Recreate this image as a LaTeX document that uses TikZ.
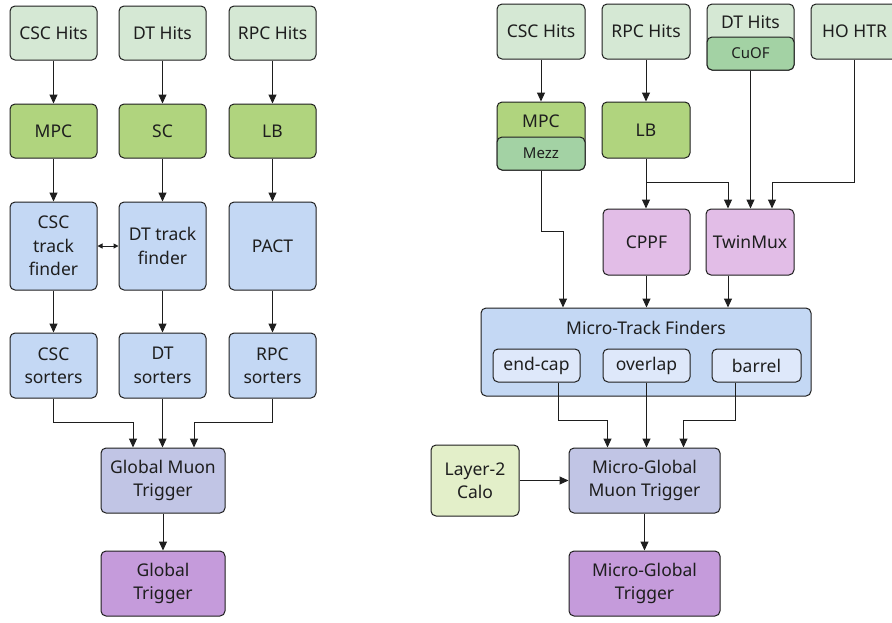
\documentclass[tikz,border=0pt]{standalone}
\usepackage{fontspec}
\setmainfont{Noto Sans}
\usetikzlibrary{arrows.meta}
\definecolor{hitsc}{HTML}{D5E8D4}
\definecolor{greenc}{HTML}{B0D47E}
\definecolor{mezzc}{HTML}{A3D2A4}
\definecolor{bluec}{HTML}{C4D8F4}
\definecolor{lavc}{HTML}{C1C5E5}
\definecolor{purpc}{HTML}{C59BDB}
\definecolor{pinkc}{HTML}{E2BDE7}
\definecolor{caloc}{HTML}{E3EFC9}
\definecolor{innerc}{HTML}{DEE8FA}
\definecolor{inkc}{HTML}{1E1E1E}
\newcommand{\mainsz}{\fontsize{17.5}{23.5}\selectfont}
\newcommand{\smallsz}{\fontsize{15}{17}\selectfont}
\begin{document}
\begin{tikzpicture}[x=1pt,y=-1pt,
  box/.style={draw=inkc, line width=1pt, rounded corners=5pt, inner sep=0pt, align=center, font=\mainsz, text=inkc},
  sz/.style 2 args={minimum width=#1 pt, minimum height=#2 pt},
  lbl/.style={inner sep=0pt, font=\mainsz, text=inkc},
  arr/.style={-{Triangle[length=9pt,width=8pt]}, line width=1pt, draw=inkc},
  darr/.style={{Triangle[length=5pt,width=5pt]}-{Triangle[length=5pt,width=5pt]}, line width=1pt, draw=inkc}]
\useasboundingbox (0,0) rectangle (892,622);
% ---------- left ----------
\node[box, sz={87}{54}, fill=hitsc] (cschits) at (53.5,33) {CSC Hits};
\node[box, sz={87}{54}, fill=hitsc] (dthits) at (162.5,33) {DT Hits};
\node[box, sz={87}{54}, fill=hitsc] (rpchits) at (272.5,33) {RPC Hits};
\node[box, sz={87}{54}, fill=greenc] (mpcL) at (53.5,131) {MPC};
\node[box, sz={87}{54}, fill=greenc] (scL) at (162.5,131) {SC};
\node[box, sz={87}{54}, fill=greenc] (lbL) at (272.5,131) {LB};
\node[box, sz={87}{88}, fill=bluec] (csctf) at (53.5,246) {CSC\\track\\finder};
\node[box, sz={87}{88}, fill=bluec] (dttf) at (162.5,246) {DT track\\finder};
\node[box, sz={87}{88}, fill=bluec] (pact) at (272.5,246) {PACT};
\node[box, sz={87}{65}, fill=bluec] (cscsort) at (53.5,365.5) {CSC\\sorters};
\node[box, sz={87}{65}, fill=bluec] (dtsort) at (162.5,365.5) {DT\\sorters};
\node[box, sz={87}{65}, fill=bluec] (rpcsort) at (272.5,365.5) {RPC\\sorters};
\node[box, sz={124}{65}, fill=lavc] (gmt) at (163,480.5) {Global Muon\\Trigger};
\node[box, sz={124}{65}, fill=purpc] (gt) at (163,583.5) {Global\\Trigger};
\coordinate (jL) at (0,422);
\draw[arr] (cschits) -- (mpcL);
\draw[arr] (dthits) -- (scL);
\draw[arr] (rpchits) -- (lbL);
\draw[arr] (mpcL) -- (csctf);
\draw[arr] (scL) -- (dttf);
\draw[arr] (lbL) -- (pact);
\draw[arr] (csctf) -- (cscsort);
\draw[arr] (dttf) -- (dtsort);
\draw[arr] (pact) -- (rpcsort);
\draw[darr] (csctf) -- (dttf);
\draw[arr] (dtsort.south) -- (dtsort.south |- gmt.north);
\draw[arr] (cscsort.south) -- (cscsort.south |- jL) -| ([xshift=-30pt]gmt.north);
\draw[arr] (rpcsort.south) -- (rpcsort.south |- jL) -| ([xshift=31pt]gmt.north);
\draw[arr] (gmt) -- (gt);
% ---------- right ----------
\node[box, sz={88}{55}, fill=hitsc] (cschitsR) at (541,31.5) {CSC Hits};
\node[box, sz={88}{55}, fill=hitsc] (rpchitsR) at (646,31.5) {RPC Hits};
\node[box, sz={87}{66}, fill=hitsc] (dthitsR) at (750.5,37) {};
\node[lbl] (dthitsRl) at (750.5,22.5) {DT Hits};
\node[box, sz={87}{33}, fill=mezzc, font=\smallsz] (cuof) at (750.5,53.5) {CuOF};
\node[box, sz={87}{55}, fill=hitsc] (hohtr) at (854.5,31.5) {HO HTR};
\node[box, sz={88}{68}, fill=greenc] (mpcR) at (541,136) {};
\node[lbl] (mpcRl) at (541,121) {MPC};
\node[box, sz={88}{33}, fill=mezzc, font=\smallsz] (mezz) at (541,153.5) {Mezz};
\node[box, sz={88}{56}, fill=greenc] (lbR) at (646,130) {LB};
\node[box, sz={87}{66}, fill=pinkc] (cppf) at (646.5,242) {CPPF};
\node[box, sz={88}{66}, fill=pinkc] (twinmux) at (750,242) {TwinMux};
\node[box, sz={330}{88}, fill=bluec] (mtf) at (646,352) {};
\node[lbl] (mtfl) at (646,328) {Micro-Track Finders};
\node[box, sz={87}{33}, fill=innerc] (endcap) at (536.5,365.5) {end-cap};
\node[box, sz={87}{33}, fill=innerc] (overlap) at (646.5,365.5) {overlap};
\node[box, sz={89}{33}, fill=innerc] (barrel) at (756.5,365.5) {barrel};
\node[box, sz={88}{71}, fill=caloc] (calo) at (475,480.5) {Layer-2\\Calo};
\node[box, sz={151}{65}, fill=lavc] (mgmt) at (644.5,480.5) {Micro-Global\\Muon Trigger};
\node[box, sz={151}{65}, fill=purpc] (mgt) at (644.5,583.5) {Micro-Global\\Trigger};
\coordinate (jR1) at (0,182);
\coordinate (jR2) at (0,231);
\coordinate (jR3) at (0,420);
\draw[arr] (cschitsR) -- (mpcR);
\draw[arr] (rpchitsR) -- (lbR);
\draw[arr] (lbR.south) -- (lbR.south |- cppf.north);
\draw[arr] (lbR.south |- jR1) -| ([xshift=-22pt]twinmux.north);
\draw[arr] (cuof.south) -- (cuof.south |- twinmux.north);
\draw[arr] (hohtr.south) -- (hohtr.south |- jR1) -| ([xshift=22pt]twinmux.north);
\draw[arr] (mezz.south) -- (mezz.south |- jR2) -| ([xshift=-83pt]mtf.north);
\draw[arr] (cppf.south) -- (cppf.south |- mtf.north);
\draw[arr] ([xshift=-22pt]twinmux.south) -- ([xshift=-22pt]twinmux.south |- mtf.north);
\draw[arr] ([xshift=21.5pt]endcap.south) -- ([xshift=21.5pt]endcap.south |- jR3) -| ([xshift=-37pt]mgmt.north);
\draw[arr] (overlap.south) -- (overlap.south |- mgmt.north);
\draw[arr] ([xshift=-21.5pt]barrel.south) -- ([xshift=-21.5pt]barrel.south |- jR3) -| ([xshift=39pt]mgmt.north);
\draw[arr] (calo) -- (mgmt);
\draw[arr] (mgmt) -- (mgt);
\end{tikzpicture}
\end{document}
